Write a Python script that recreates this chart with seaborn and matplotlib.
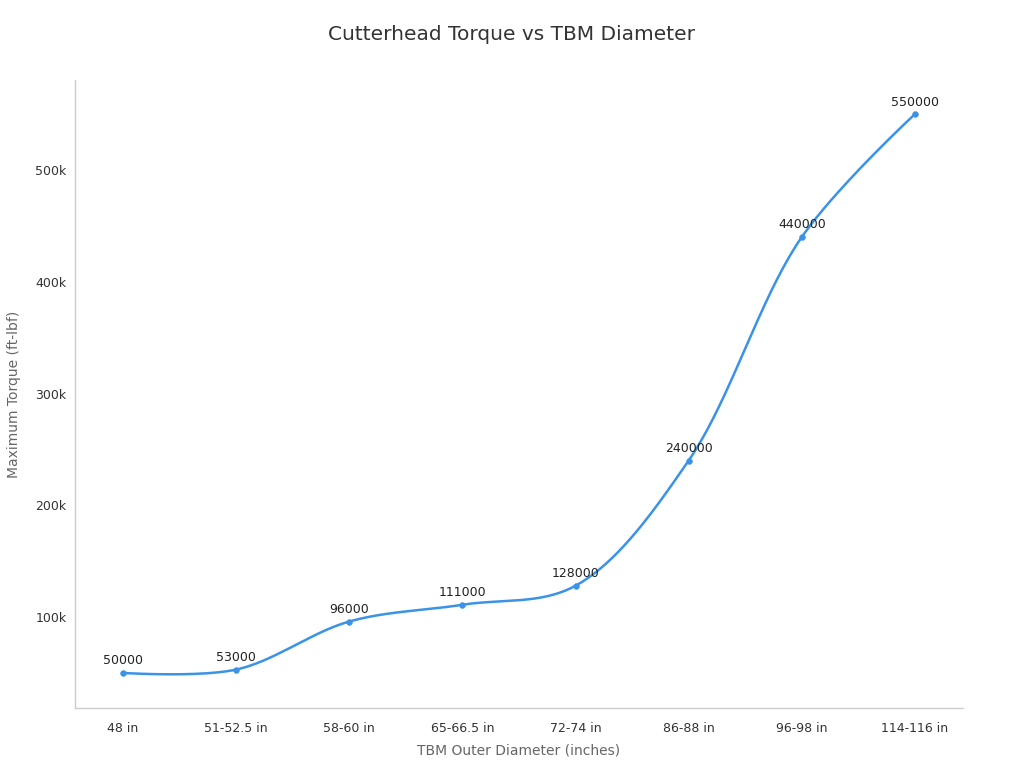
import numpy as np
import pandas as pd
import matplotlib
matplotlib.use('Agg')
import matplotlib.pyplot as plt
import seaborn as sns
from matplotlib.ticker import FuncFormatter

# data
diameters = ['48 in', '51-52.5 in', '58-60 in', '65-66.5 in', '72-74 in', '86-88 in', '96-98 in', '114-116 in']
torque = [50000, 53000, 96000, 111000, 128000, 240000, 440000, 550000]

line_color = '#3a93e6'

sns.set_theme(style='white')
plt.rcParams['font.family'] = ['DejaVu Sans']

df = pd.DataFrame({'pos': np.arange(len(diameters)), 'torque': torque})

# centripetal catmull-rom through the points, worked out in screen space
def smooth_curve(xs, ys, sx=113.0, sy=1.1175e-3, alpha=0.5, n=40):
    P = np.column_stack([np.asarray(xs, float) * sx, np.asarray(ys, float) * sy])
    m = len(P)
    segs = []
    for i in range(m - 1):
        p1, p2 = P[i], P[i + 1]
        p0 = P[i - 1] if i > 0 else None
        p3 = P[i + 2] if i + 2 < m else None
        l12 = np.linalg.norm(p2 - p1) ** alpha
        c1 = p1.copy()
        c2 = p2.copy()
        if p0 is not None:
            l01 = np.linalg.norm(p1 - p0) ** alpha
            a = 2 * l01**2 + 3 * l01 * l12 + l12**2
            nn = 3 * l01 * (l01 + l12)
            c1 = (p1 * a - p0 * l12**2 + p2 * l01**2) / nn
        if p3 is not None:
            l23 = np.linalg.norm(p3 - p2) ** alpha
            b = 2 * l23**2 + 3 * l23 * l12 + l12**2
            mm = 3 * l23 * (l23 + l12)
            c2 = (p2 * b + p1 * l23**2 - p3 * l12**2) / mm
        t = np.linspace(0, 1, n)[:, None]
        segs.append((1-t)**3*p1 + 3*(1-t)**2*t*c1 + 3*(1-t)*t**2*c2 + t**3*p2)
    pts = np.vstack(segs)
    return pts[:, 0] / sx, pts[:, 1] / sy

cx, cy = smooth_curve(df['pos'], df['torque'])
curve = pd.DataFrame({'x': cx, 'y': cy})

fig = plt.figure(figsize=(10.24, 7.68), dpi=100)
ax = fig.add_axes([0.0732, 0.0781, 0.8672, 0.8177])

sns.lineplot(data=curve, x='x', y='y', ax=ax, color=line_color, linewidth=1.8, sort=False, estimator=None)
sns.scatterplot(data=df, x='pos', y='torque', ax=ax, color=line_color, s=18, edgecolor=line_color, zorder=3)

for p, v in zip(df['pos'], df['torque']):
    ax.annotate(str(v), (p, v), xytext=(0, 4), textcoords='offset points',
                ha='center', va='bottom', fontsize=9, color='#222222')

ax.set_xlim(-0.425, len(diameters) - 1 + 0.425)
ax.set_ylim(18600, 580500)
ax.set_xticks(range(len(diameters)))
ax.set_xticklabels(diameters)
ax.set_yticks([100000, 200000, 300000, 400000, 500000])
ax.yaxis.set_major_formatter(FuncFormatter(lambda v, _: f'{int(v / 1000)}k'))

ax.tick_params(axis='both', labelsize=9, colors='#333333', length=4, width=0.8, color='#999999')
ax.tick_params(axis='x', pad=6)
ax.tick_params(axis='y', pad=2)

for side in ['top', 'right']:
    ax.spines[side].set_visible(False)
for side in ['left', 'bottom']:
    ax.spines[side].set_color('#cccccc')
    ax.spines[side].set_linewidth(1)

ax.set_xlabel('TBM Outer Diameter (inches)', fontsize=10, color='#666666', labelpad=6)
ax.set_ylabel('Maximum Torque (ft-lbf)', fontsize=10, color='#666666', labelpad=10)
fig.suptitle('Cutterhead Torque vs TBM Diameter', fontsize=14.5, color='#333333', y=0.967)

fig.savefig('out.png', dpi=100)
